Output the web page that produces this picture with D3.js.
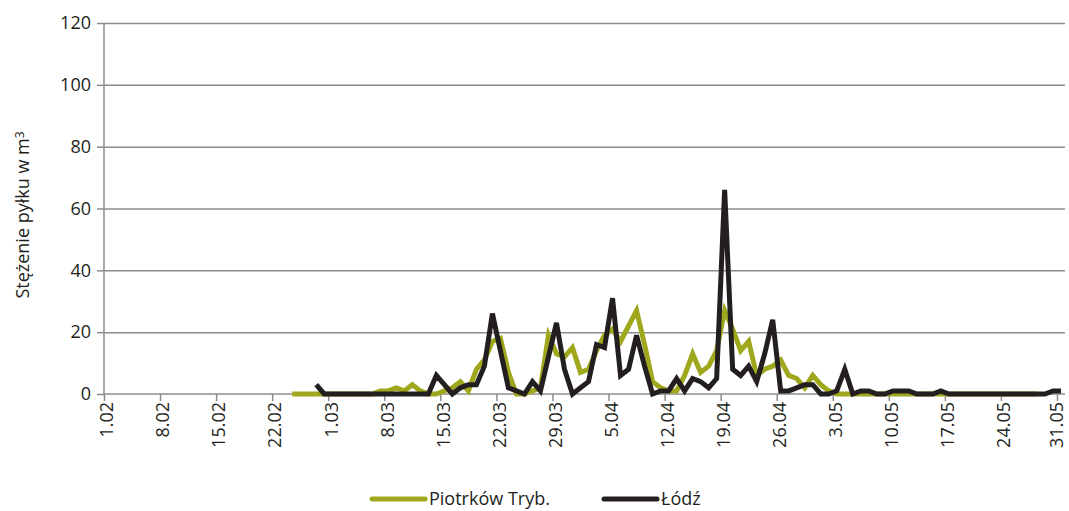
<!DOCTYPE html>
<meta charset="utf-8">
<script src="https://d3js.org/d3.v7.min.js"></script>
<style>
  body { margin: 0; background: #fff; }
  text { font-family: "Open Sans", sans-serif; fill: #231f20; }
</style>
<body>
<div id="chart"></div>
<script>

// x axis: one category per day, 1.02 .. 31.05 (120 days)
var dayCount = 120;
var tickDays = [0, 7, 14, 21, 28, 35, 42, 49, 56, 63, 70, 77, 84, 91, 98, 105, 112, 119];
var tickLabels = ["1.02", "8.02", "15.02", "22.02", "1.03", "8.03", "15.03", "22.03", "29.03",
  "5.04", "12.04", "19.04", "26.04", "3.05", "10.05", "17.05", "24.05", "31.05"];
var yTicks = [0, 20, 40, 60, 80, 100, 120];

// Piotrków Tryb. starts on 24.02 (day 23)
var piotrkowStart = 23;
var piotrkow = [0, 0, 0, 0, 0, 0, 0, 0, 0, 0, 0,
  1, 1, 2, 1, 3, 1, 0, 0, 1, 2, 4, 1, 8, 11, 17, 18, 7, 0, 0, 1, 2,
  19, 13, 12, 15, 7, 8, 14, 19, 21, 17, 22, 27, 16, 4, 2, 1, 1, 6, 13,
  7, 9, 14, 27, 21, 14, 17, 6, 8, 9, 11, 6, 5, 2, 6, 3, 1, 0, 0,
  0, 0, 0, 0, 0, 0, 0, 0, 0, 0, 0, 0, 0, 0, 0, 0, 0, 0, 0, 0, 0, 0, 0, 0];

// Łódź starts on 27.02 (day 26)
var lodzStart = 26;
var lodz = [3, 0, 0, 0, 0, 0, 0, 0, 0, 0, 0, 0, 0, 0, 0,
  6, 3, 0, 2, 3, 3, 9, 26, 14, 2, 1, 0, 4, 1, 12, 23, 8, 0, 2, 4,
  16, 15, 31, 6, 8, 19, 9, 0, 1, 1, 5, 1, 5, 4, 2, 5, 66, 8, 6, 9, 4, 13, 24,
  1, 1, 2, 3, 3, 0, 0, 1, 8, 0, 1, 1, 0, 0, 1, 1, 1, 0, 0, 0, 1,
  0, 0, 0, 0, 0, 0, 0, 0, 0, 0, 0, 0, 0, 1, 1];

var W = 1069, H = 511;
var plot = { left: 104, right: 1065, top: 23, bottom: 394 };

var svg = d3.select("#chart").append("svg")
  .attr("width", W)
  .attr("height", H);

var x = d3.scaleLinear().domain([0, dayCount]).range([plot.left, plot.right]);
var y = d3.scaleLinear().domain([0, 120]).range([plot.bottom, plot.top]);

// horizontal gridlines
svg.append("g")
  .attr("transform", "translate(" + plot.left + ",0)")
  .call(d3.axisLeft(y).tickValues(yTicks.slice(1)).tickSize(-(plot.right - plot.left)).tickFormat(""))
  .call(function (g) { g.select(".domain").remove(); })
  .selectAll("line")
  .attr("stroke", "#8c8c8c")
  .attr("stroke-width", 1.5);

// y axis
var yAxis = svg.append("g")
  .attr("transform", "translate(" + plot.left + ",0)")
  .call(d3.axisLeft(y).tickValues(yTicks).tickSize(7).tickPadding(6));
yAxis.select(".domain").attr("stroke", "#8c8c8c").attr("stroke-width", 1.5)
  .attr("d", "M0," + plot.bottom + "V" + plot.top);
yAxis.selectAll("line").attr("stroke", "#8c8c8c").attr("stroke-width", 1.5);
yAxis.selectAll("text").style("font-size", "18px");

// x axis
var xAxis = svg.append("g")
  .attr("transform", "translate(0," + plot.bottom + ")")
  .call(d3.axisBottom(x).tickValues(tickDays).tickSize(7)
    .tickFormat(function (d, i) { return tickLabels[i]; }));
xAxis.select(".domain").attr("stroke", "#8c8c8c").attr("stroke-width", 1.5)
  .attr("d", "M" + plot.left + ",0H" + plot.right);
xAxis.selectAll("line").attr("stroke", "#8c8c8c").attr("stroke-width", 1.5);
xAxis.selectAll("text")
  .style("font-size", "18px")
  .attr("text-anchor", "end")
  .attr("transform", "rotate(-90)")
  .attr("x", -8)
  .attr("y", function (d, i) { return i == tickDays.length - 1 ? -1 : 2.5; })  // keep last one inside
  .attr("dy", "0.35em");

// y axis title
var title = svg.append("text")
  .attr("transform", "translate(29,215) rotate(-90)")
  .attr("text-anchor", "middle")
  .style("font-size", "18px");
title.append("tspan").text("Stężenie pyłku w m");
title.append("tspan").attr("dy", "-0.45em").style("font-size", "12px").text("3");

// lines
function series(start, values) {
  return values.map(function (v, i) { return { day: start + i, value: v }; });
}
var line = d3.line()
  .x(function (d) { return x(d.day + 0.5); })
  .y(function (d) { return y(d.value); });

svg.append("path")
  .datum(series(piotrkowStart, piotrkow))
  .attr("fill", "none")
  .attr("stroke", "#9fa81c")
  .attr("stroke-width", 5)
  .attr("d", line);

svg.append("path")
  .datum(series(lodzStart, lodz))
  .attr("fill", "none")
  .attr("stroke", "#231f20")
  .attr("stroke-width", 5)
  .attr("d", line);

// legend
var legend = [
  { name: "Piotrków Tryb.", color: "#9fa81c", x: 372 },
  { name: "Łódź", color: "#231f20", x: 604 }
];
var lg = svg.append("g").selectAll("g").data(legend).enter().append("g")
  .attr("transform", function (d) { return "translate(" + d.x + ",499)"; });
lg.append("line")
  .attr("x1", 0).attr("x2", 53)
  .attr("stroke", function (d) { return d.color; })
  .attr("stroke-width", 5)
  .attr("stroke-linecap", "round");
lg.append("text")
  .attr("x", 57)
  .attr("dy", "0.35em")
  .style("font-size", "18px")
  .text(function (d) { return d.name; });

</script>
</body>
